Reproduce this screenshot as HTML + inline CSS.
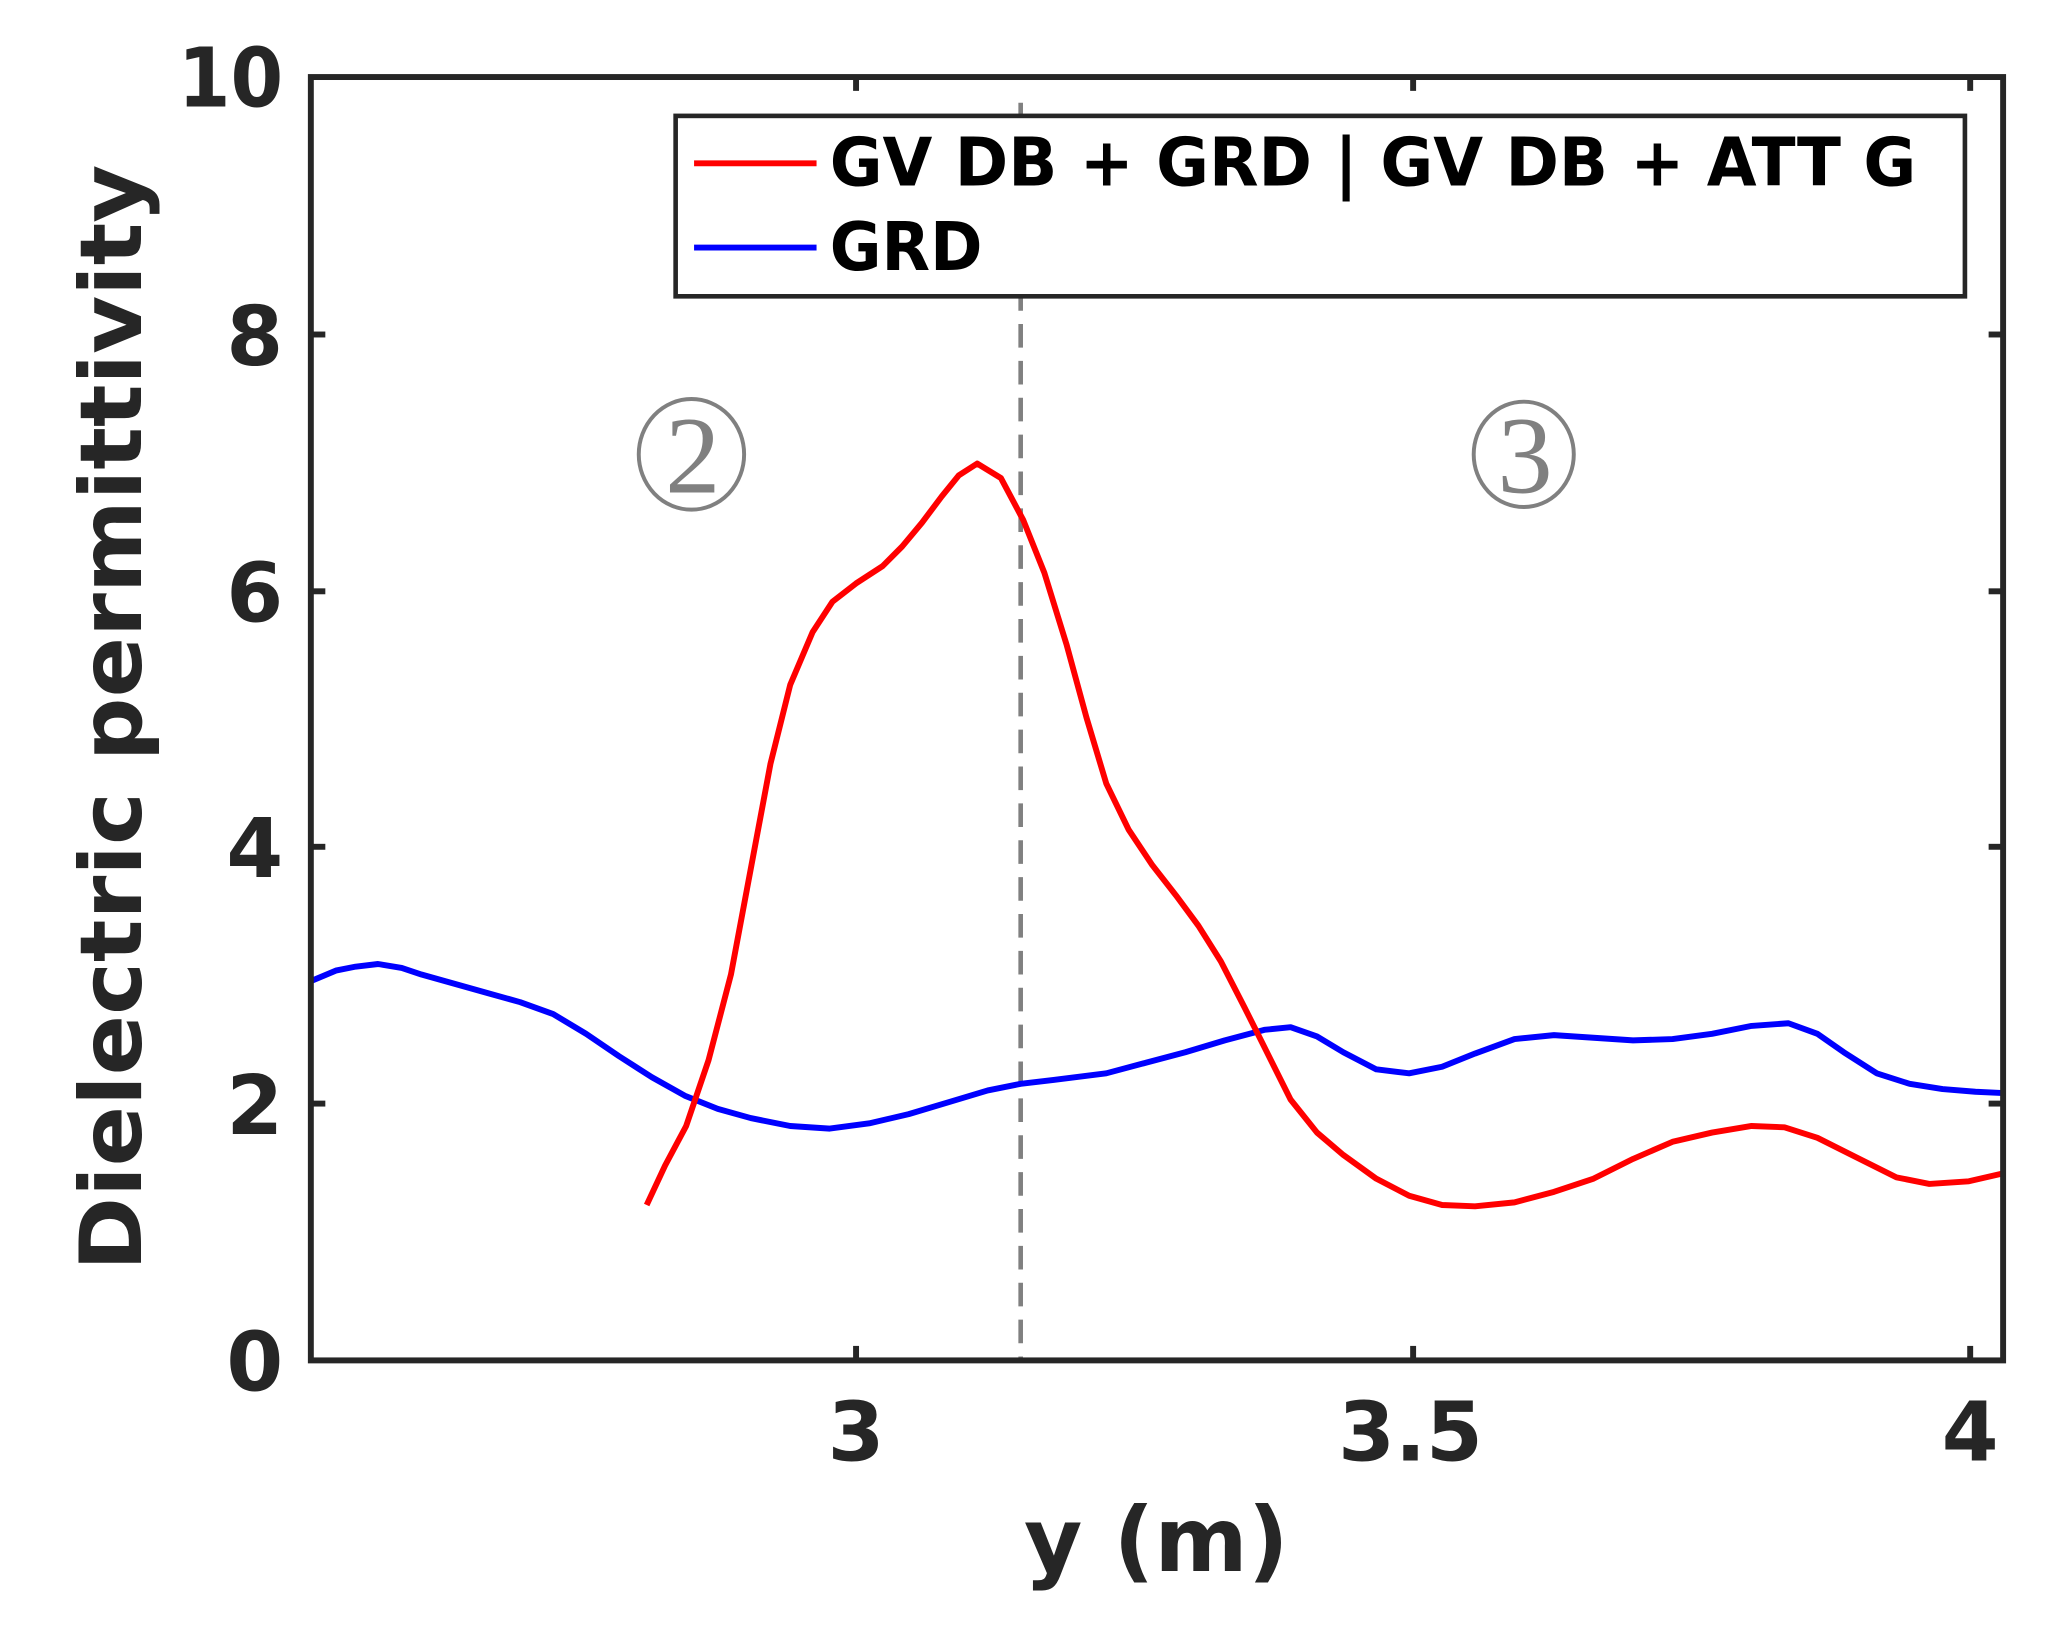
<!DOCTYPE html>
<html><head><meta charset="utf-8"><style>html,body{margin:0;padding:0;background:#fff}svg{display:block}</style></head>
<body>
<svg width="2064" height="1628" viewBox="0 0 1567.2 1236.2" xmlns="http://www.w3.org/2000/svg" font-family="'DejaVu Sans','Liberation Sans',sans-serif" font-weight="bold">
<rect width="1567.2" height="1236.2" fill="#fff"/>
<line x1="775" y1="78" x2="775" y2="1033" stroke="#808080" stroke-width="3.5" stroke-dasharray="18,10"/>
<g fill="none" stroke="#808080" stroke-width="3">
<ellipse cx="525" cy="345" rx="40" ry="42"/>
<ellipse cx="1157" cy="345" rx="38" ry="40"/>
</g>
<g fill="#808080" font-family="'Liberation Serif','DejaVu Serif',serif" font-weight="normal" font-size="84" text-anchor="middle">
<text x="526" y="374">2</text>
<text x="1158" y="374">3</text>
</g>
<polyline fill="none" stroke="#0000ff" stroke-width="4.5" stroke-linejoin="round" points="236,745 255,737 270,734 287,732 305,735 320,740 345,747 370,754 395,761 420,770 445,785 470,802 495,818 520,832 545,842 570,849 600,855 630,857 660,853 690,846 720,837 750,828 775,823 800,820 840,815 870,807 900,799 930,790 960,782 980,780 1000,787 1020,799 1045,812 1070,815 1095,810 1120,800 1150,789 1180,786 1210,788 1240,790 1270,789 1300,785 1330,779 1358,777 1380,785 1400,799 1425,815 1450,823 1475,827 1500,829 1521,830"/>
<polyline fill="none" stroke="#ff0000" stroke-width="4.5" stroke-linejoin="round" points="491,915 505,885 521,855 538,805 555,740 570,660 585,580 600,520 617,480 632,457 650,443 670,430 685,415 700,397 715,377 728,361 742,352 760,363 777,395 793,435 810,490 825,545 840,595 857,630 875,657 893,680 910,703 927,730 945,765 960,795 980,835 1000,860 1020,877 1045,895 1070,908 1095,915 1120,916 1150,913 1180,905 1210,895 1240,880 1270,867 1300,860 1330,855 1355,856 1380,864 1410,879 1440,894 1465,899 1495,897 1521,891"/>
<rect x="236" y="58.5" width="1285" height="974.5" fill="none" stroke="#262626" stroke-width="4.5"/>
<g stroke="#262626" stroke-width="4.5">
<line x1="650" y1="1033" x2="650" y2="1022"/><line x1="1073" y1="1033" x2="1073" y2="1022"/><line x1="1496" y1="1033" x2="1496" y2="1022"/>
<line x1="650" y1="58.5" x2="650" y2="69"/><line x1="1073" y1="58.5" x2="1073" y2="69"/><line x1="1496" y1="58.5" x2="1496" y2="69"/>
<line x1="236" y1="838" x2="247" y2="838"/><line x1="236" y1="643" x2="247" y2="643"/><line x1="236" y1="449" x2="247" y2="449"/><line x1="236" y1="254" x2="247" y2="254"/>
<line x1="1521" y1="838" x2="1510" y2="838"/><line x1="1521" y1="643" x2="1510" y2="643"/><line x1="1521" y1="449" x2="1510" y2="449"/><line x1="1521" y1="254" x2="1510" y2="254"/>
</g>
<g fill="#262626" font-size="62" text-anchor="end">
<text x="215" y="1056">0</text>
<text x="215" y="861">2</text>
<text x="215" y="666">4</text>
<text x="215" y="472">6</text>
<text x="215" y="277">8</text>
<text x="215" y="81" textLength="80" lengthAdjust="spacingAndGlyphs">10</text>
</g>
<g fill="#262626" font-size="62" text-anchor="middle">
<text x="650" y="1109">3</text>
<text x="1071" y="1109">3.5</text>
<text x="1496" y="1109">4</text>
</g>
<text x="878" y="1193" fill="#262626" font-size="68" text-anchor="middle">y (m)</text>
<text transform="translate(107,545) rotate(-90)" fill="#262626" font-size="65" text-anchor="middle" textLength="840" lengthAdjust="spacingAndGlyphs">Dielectric permittivity</text>
<rect x="513" y="88" width="979" height="137" fill="#fff" stroke="#262626" stroke-width="3.5"/>
<line x1="527" y1="124" x2="620" y2="124" stroke="#ff0000" stroke-width="4.5"/>
<line x1="527" y1="188" x2="620" y2="188" stroke="#0000ff" stroke-width="4.5"/>
<g fill="#000" font-size="51">
<text x="630" y="141" textLength="825" lengthAdjust="spacingAndGlyphs">GV DB + GRD | GV DB + ATT G</text>
<text x="630" y="205" textLength="116" lengthAdjust="spacingAndGlyphs">GRD</text>
</g>
</svg>
</body></html>
